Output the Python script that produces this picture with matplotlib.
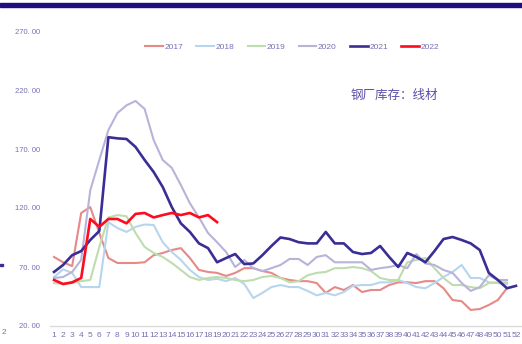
import numpy as np
import matplotlib.pyplot as plt
from matplotlib.patches import Rectangle

plt.rcParams['font.family'] = ['Liberation Sans', 'DejaVu Sans']

# weekly wire-rod inventory at steel mills, by year
weeks = list(range(1, 53))
v2017 = [78.5, 74, 70.8, 115.8, 120.8, 98.8, 77.6, 73.4, 73.4, 73.4, 74, 80, 81.9, 84.4, 86,
         77.6, 67.5, 65.8, 65, 62.4, 65, 69, 69, 66.6, 65, 60.7, 59, 58, 58, 56.4, 48, 53,
         50.5, 54.7, 48.8, 50.5, 50.5, 54.7, 57, 57, 56.4, 58, 58, 52, 42, 41, 33.6, 34.4,
         37.8, 42, 52]
v2018 = [61.5, 68, 65, 53, 53, 53, 108, 103, 99.7, 104, 106, 105.6, 91, 82.7, 76, 67.5, 61.5,
         59, 60, 58, 60.7, 55.6, 43.7, 48, 53, 54.7, 53, 53, 49.7, 46, 48, 46, 48.8, 54,
         54.7, 54.7, 57, 57, 59, 56.4, 53, 52, 56.4, 61.5, 65.8, 71.7, 60.7, 60.7, 57, 56.4,
         55.6]
v2019 = [56.4, 55.6, 56.4, 58, 59, 87, 112, 114, 113, 98.8, 87, 81.9, 78.5, 73.4, 67.5, 61.5,
         59, 60.7, 61.5, 60.7, 59, 58, 59, 61.5, 62.4, 60.7, 57, 58, 63, 65, 65.8, 69, 69, 70,
         69, 66.6, 60.7, 59, 59, 74, 76, 77.6, 69, 60.7, 54.7, 54.7, 53, 52, 56.4, 57, 57]
v2020 = [60.7, 61.5, 65.8, 76, 135, 160.7, 186, 200.5, 207, 210.7, 204, 177.6, 160.7, 154,
         139.5, 124, 112, 98.8, 91, 82.7, 70, 76, 69, 66.6, 69, 71.7, 76.8, 76.8, 71.7, 78.5,
         80, 74, 74, 74, 74, 67.5, 69, 70, 71.7, 69, 81, 73, 71.7, 67.5, 65, 56.5, 49.7, 53,
         63, 59, 59]
v2021 = [65.8, 71.7, 80, 83.5, 92.9, 100.5, 180, 179, 178.5, 171.7, 160.7, 150.5, 137.8,
         120.8, 107, 99.7, 90, 86, 74, 77.6, 81, 72.5, 73, 80, 87.8, 95, 93.7, 91, 90, 90,
         99.7, 90, 90, 82.7, 81, 81.9, 87.8, 78.5, 70, 81.9, 78.5, 74, 83.5, 93.7, 95.4, 92.9,
         90, 84.4, 65, 59, 52, 54]
v2022 = [59, 55.6, 57, 60.7, 110.7, 104, 110.7, 110.7, 107, 115, 115.8, 112, 114, 115.8, 114,
         115.8, 112, 114, 108]

series = [
    ('2017', v2017, '#E58A86', 1.5),
    ('2018', v2018, '#B7D5EE', 1.5),
    ('2019', v2019, '#BEDDAE', 1.5),
    ('2020', v2020, '#B8B3D9', 1.5),
    ('2021', v2021, '#3A2E96', 1.9),
    ('2022', v2022, '#FF0A1E', 1.9),
]

fig = plt.figure(figsize=(5.22, 3.44), dpi=100)
ax = fig.add_axes([49.5 / 522, 18 / 344, 471 / 522, 295 / 344])

for name, vals, col, lw in series:
    ax.plot(weeks[:len(vals)], vals, color=col, lw=lw, label=name)

txtc = '#7470B4'
ax.set_xlim(0.5, 52.5)
ax.set_ylim(20, 270)
ax.set_yticks([20, 70, 120, 170, 220, 270])
ax.set_yticklabels(['%d. 00' % t for t in [20, 70, 120, 170, 220, 270]])
ax.set_xticks(weeks)
ax.set_xticklabels([str(w) for w in weeks])
ax.tick_params(axis='both', length=0, labelsize=6, colors=txtc)
ax.tick_params(axis='y', pad=7, labelsize=5.5)
ax.tick_params(axis='x', pad=4)
for s in ['top', 'right', 'left']:
    ax.spines[s].set_visible(False)
ax.spines['bottom'].set_color('#DADADA')
ax.spines['bottom'].set_linewidth(1)

leg = ax.legend(loc='center', bbox_to_anchor=(0.515, 0.946), ncol=6, frameon=False,
                fontsize=6, handlelength=2.1, handletextpad=0.2, columnspacing=1.6)
for t in leg.get_texts():
    t.set_color(txtc)

ax.text(0.64, 0.783, '钢厂库存：线材', transform=ax.transAxes, fontsize=9, color='#5A4FA6',
        va='center', family=['Noto Sans CJK SC', 'DejaVu Sans'])

# dark band along the top edge
fig.patches.append(Rectangle((0, 337 / 344), 1, 4 / 344, transform=fig.transFigure,
                             color='#1E0E80', zorder=5))
fig.text(2 / 522, 11 / 344, '2', fontsize=6, color=txtc, va='center')
fig.patches.append(Rectangle((0, 78 / 344), 3 / 522, 2 / 344, transform=fig.transFigure,
                             color='#3A2E96'))

fig.savefig('out.png', dpi=100)
